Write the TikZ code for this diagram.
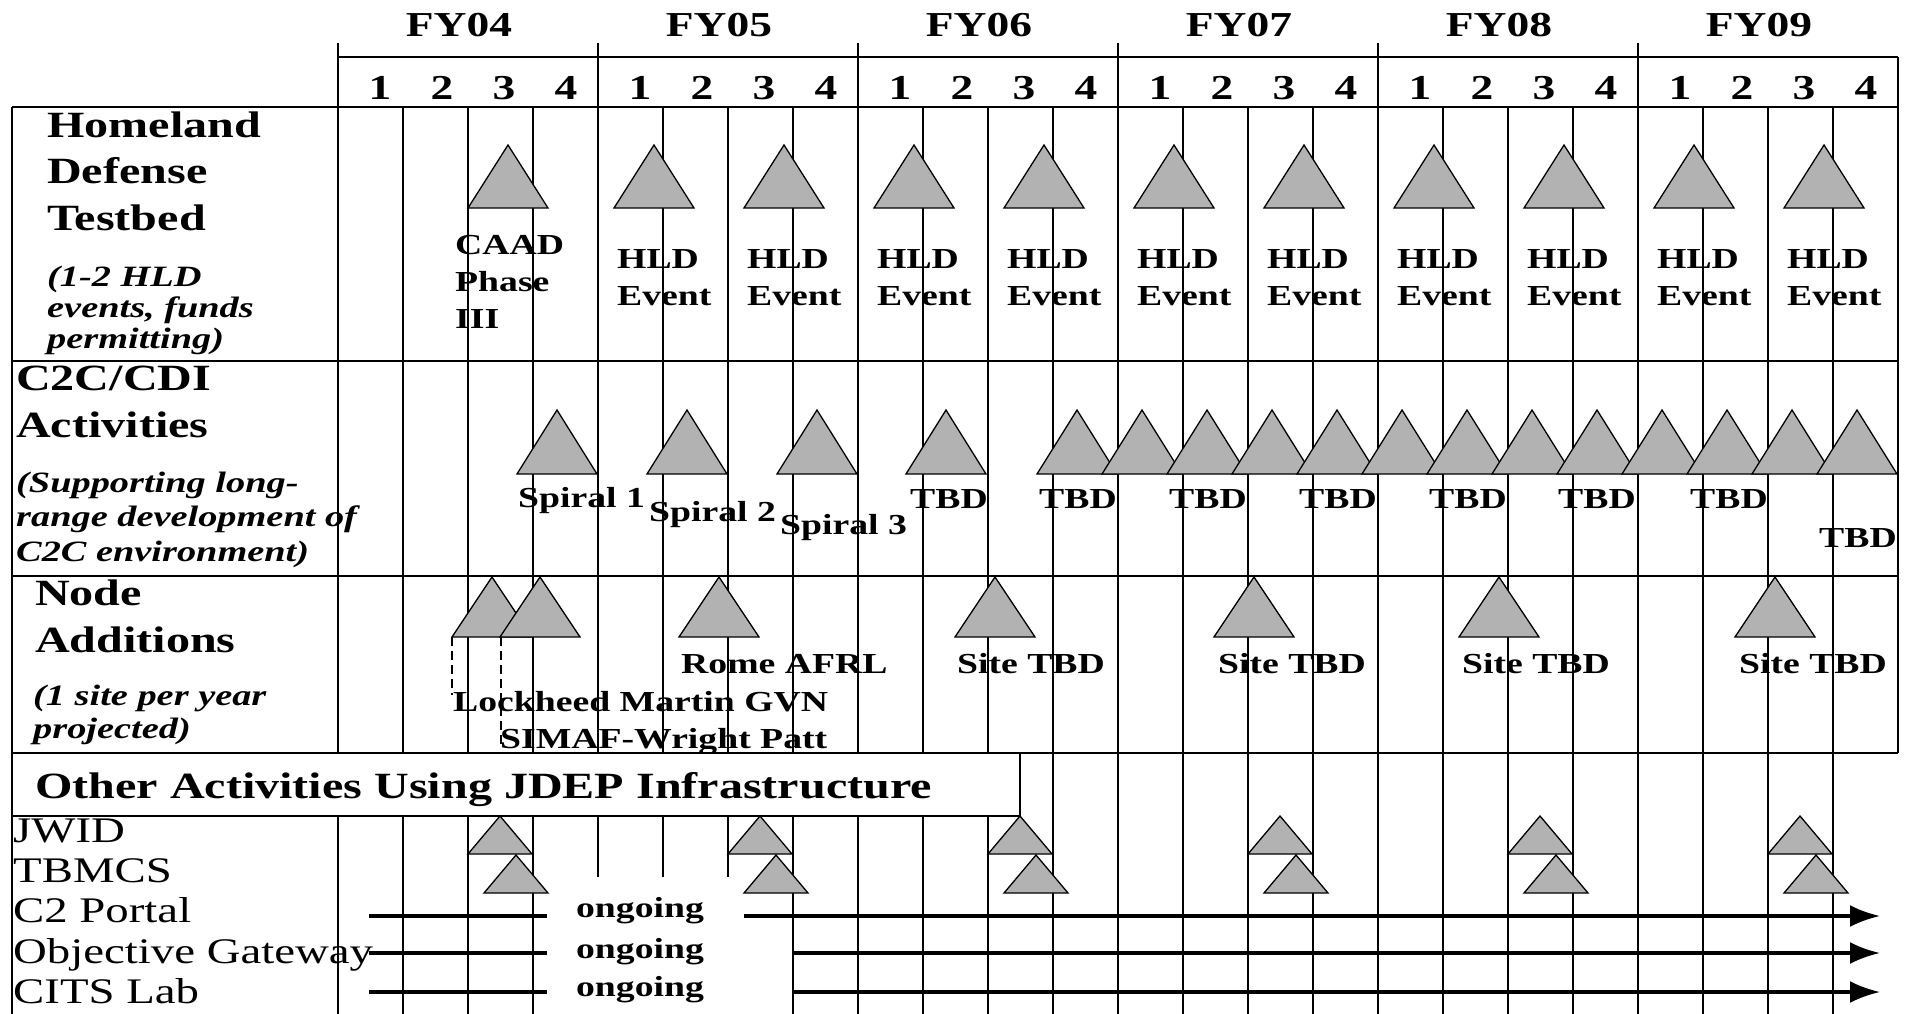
\documentclass[tikz,border=0pt]{standalone}
\usepackage{fontspec}
\setmainfont{Liberation Serif}[FakeStretch=1.3]
\usetikzlibrary{arrows.meta}
\tikzset{>={Latex[length=30pt,width=22pt]}}

\begin{document}
\begin{tikzpicture}[x=1pt, y=-1pt]
	\tikzstyle{grid} = [line width=1.6pt]
	\tikzstyle{marker} = [draw=black, fill=gray!60, line width=1.3pt]
	\tikzstyle{yeartext} = [font=\fontsize{35}{40}\selectfont\bfseries, inner sep=0pt]
	\tikzstyle{rowtitle} = [font=\fontsize{37}{46.5}\selectfont\bfseries, align=left, inner sep=0pt, anchor=base west]
	\tikzstyle{rownote} = [font=\fontsize{29.5}{31}\selectfont\bfseries\itshape, align=left, inner sep=0pt, anchor=base west]
	\tikzstyle{evtext} = [font=\fontsize{29}{37}\selectfont\bfseries, align=left, inner sep=0pt, anchor=base west]
	\tikzstyle{item} = [font=\fontsize{36}{40}\selectfont, inner sep=0pt, anchor=base west]
	\tikzstyle{bar} = [line width=3.5pt]

	\useasboundingbox (0,0) rectangle (1905,1014);

%----------Grid and header------------------------------------
	\foreach \x in {338,403,...,1833}
		\draw[grid] (\x,107) -- (\x,1014);
	\foreach \x in {338,598,...,1638}
		\draw[grid] (\x,43) -- (\x,107);
	\draw[grid] (1898,57) -- (1898,753);
	\draw[grid] (338,57) -- (1898,57);
	\foreach \y in {107,361,576,753}
		\draw[grid] (12,\y) -- (1898,\y);
	\draw[grid] (12,107) -- (12,1014);

	\foreach \y [count=\i from 0] in {04,05,06,07,08,09} {
		\node[yeartext] (fy\y) at (459+260*\i,25) {FY\y};
		\foreach \q in {1,...,4}
			\node[yeartext] (q\y\q) at (380+260*\i+62*\q-62,88) {\q};
	}

%----------Homeland Defense Testbed (base = last line)--------
	\node[rowtitle] (hdt) at (47,230) {Homeland\\Defense\\Testbed};
	\node[rownote] (hdtnote) at (47,348) {(1-2 HLD\\events, funds\\permitting)};

	\draw[marker] (468,208) -- (508,145) -- (548,208) -- cycle;
	\node[evtext] (caad) at (455,328) {CAAD\\Phase\\III};

	\foreach \x [count=\i] in {654,784,...,1824} {
		\draw[marker] (\x-40,208) -- (\x,145) -- (\x+40,208) -- cycle;
		\node[evtext] (hld\i) at (\x-37,305) {HLD\\Event};
	}

%----------C2C/CDI Activities---------------------------------
	\node[rowtitle] (c2c) at (16,437) {C2C/CDI\\Activities};
	\node[rownote, font=\fontsize{29.5}{34.5}\selectfont\bfseries\itshape] (c2cnote) at (16,561)
		{(Supporting long-\\range development of\\C2C environment)};

	\foreach \x in {557,687,817,946,1077,1142,...,1857}
		\draw[marker] (\x-40,474) -- (\x,410) -- (\x+40,474) -- cycle;

	\node[evtext] (sp1) at (518,507) {Spiral 1};
	\node[evtext] (sp2) at (649,521) {Spiral 2};
	\node[evtext] (sp3) at (780,534) {Spiral 3};
	\foreach \x [count=\i] in {910,1039,1169,1299,1429,1558,1690}
		\node[evtext] (tbd\i) at (\x,508) {TBD};
	\node[evtext] (tbd8) at (1819,547) {TBD};

%----------Node Additions-------------------------------------
	\node[rowtitle] (nadd) at (35,652) {Node\\Additions};
	\node[rownote, font=\fontsize{29.5}{33}\selectfont\bfseries\itshape] (naddnote) at (33,738)
		{(1 site per year\\projected)};

	\draw[dash pattern=on 9pt off 5pt, line width=1.3pt] (452,637) -- (452,695);
	\draw[dash pattern=on 9pt off 5pt, line width=1.3pt] (501,637) -- (501,746);
	\foreach \x in {492,540,719,995,1254,1499,1775}
		\draw[marker] (\x-40,637) -- (\x,577) -- (\x+40,637) -- cycle;

	\node[evtext] (lm) at (453,711) {Lockheed Martin GVN};
	\node[evtext] (simaf) at (500,748) {SIMAF-Wright Patt};
	\node[evtext] (rome) at (681,673) {Rome AFRL};
	\foreach \x [count=\i] in {957,1218,1462,1739}
		\node[evtext] (site\i) at (\x,673) {Site TBD};

%----------Other activities-----------------------------------
	\draw[grid, fill=white] (12,753) rectangle (1020,816);
	\node[rowtitle] (other) at (35,798) {Other Activities Using JDEP Infrastructure};
	\fill[white] (548,877) rectangle (789,1014);

	\node[item] (jwid) at (13,842) {JWID};
	\node[item] (tbmcs) at (13,882) {TBMCS};
	\node[item] (portal) at (13,922) {C2 Portal};
	\node[item] (gateway) at (13,963) {Objective Gateway};
	\node[item] (cits) at (13,1003) {CITS Lab};

	\foreach \x in {500,760,...,1800} {
		\draw[marker] (\x-32,854) -- (\x,816) -- (\x+32,854) -- cycle;
		\draw[marker] (\x-16,893) -- (\x+16,855) -- (\x+48,893) -- cycle;
	}

	\coordinate (pa) at (369,916);  \coordinate (pb) at (547,916);
	\coordinate (pc) at (744,916);  \coordinate (pd) at (1880,916);
	\coordinate (ga) at (369,953);  \coordinate (gb) at (547,953);
	\coordinate (gc) at (793,953);  \coordinate (gd) at (1880,953);
	\coordinate (ca) at (369,992);  \coordinate (cb) at (547,992);
	\coordinate (cc) at (793,992);  \coordinate (cd) at (1880,992);

	\draw[bar] (pa) -- (pb);
	\draw[bar, ->] (pc) -- (pd);
	\draw[bar] (ga) -- (gb);
	\draw[bar, ->] (gc) -- (gd);
	\draw[bar] (ca) -- (cb);
	\draw[bar, ->] (cc) -- (cd);

	\node[evtext, anchor=base] (on1) at (640,917) {ongoing};
	\node[evtext, anchor=base] (on2) at (640,958) {ongoing};
	\node[evtext, anchor=base] (on3) at (640,996) {ongoing};
\end{tikzpicture}
\end{document}
